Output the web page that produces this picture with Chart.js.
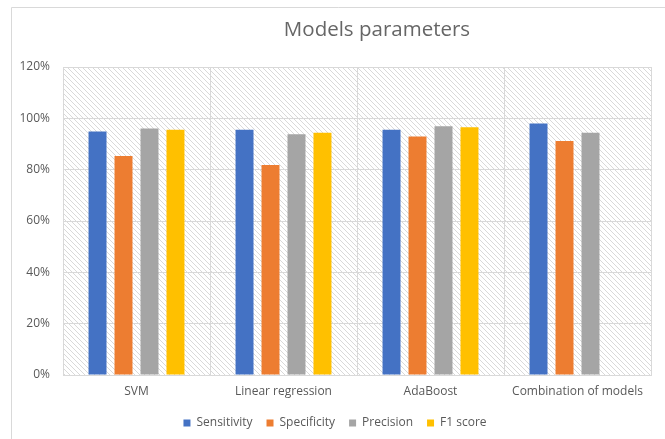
<!DOCTYPE html>
<html>
<head>
<meta charset="utf-8">
<script src="https://cdn.jsdelivr.net/npm/chart.js@4"></script>
<style>
  html, body { margin: 0; padding: 0; background: #fff; }
  #wrap { width: 665px; height: 439px; position: relative; }
</style>
</head>
<body>
<div id="wrap"><canvas id="modelsChart"></canvas></div>
<script>
// chart data
const chartTitle = 'Models parameters';
const categories = ['SVM', 'Linear regression', 'AdaBoost', 'Combination of models'];
const sensitivity = [94.9, 95.6, 95.6, 98.0];
const specificity = [85.3, 81.8, 92.9, 91.2];
const precision = [96.0, 93.8, 96.9, 94.4];
const f1Score = [95.6, 94.4, 96.5, null];
const yMax = 120;
const yStep = 20;

document.addEventListener('DOMContentLoaded', function() {
    // diagonal hatch used behind the plot
    const tile = document.createElement('canvas');
    tile.width = 5;
    tile.height = 5;
    const tctx = tile.getContext('2d');
    tctx.strokeStyle = '#d9d9d9';
    tctx.lineWidth = 1;
    [-5, 0, 5].forEach(o => {
        tctx.beginPath();
        tctx.moveTo(o, 0);
        tctx.lineTo(o + 5, 5);
        tctx.stroke();
    });

    const backdrop = {
        id: 'backdrop',
        beforeDraw(chart) {
            const ctx = chart.ctx;
            const a = chart.chartArea;
            ctx.save();
            ctx.fillStyle = '#fff';
            ctx.fillRect(0, 0, chart.width, chart.height);
            // frame of the chart object
            ctx.strokeStyle = '#d9d9d9';
            ctx.lineWidth = 1;
            ctx.beginPath();
            ctx.moveTo(11.5, chart.height + 2);
            ctx.lineTo(11.5, 7.5);
            ctx.lineTo(chart.width + 2, 7.5);
            ctx.stroke();
            // hatched plot area
            ctx.fillStyle = ctx.createPattern(tile, 'repeat');
            ctx.fillRect(a.left, a.top, a.right - a.left, a.bottom - a.top);
            ctx.restore();
        },
        afterDraw(chart) {
            const ctx = chart.ctx;
            ctx.save();
            ctx.font = '20.5px "Open Sans"';
            ctx.fillStyle = '#666666';
            ctx.textAlign = 'center';
            ctx.textBaseline = 'middle';
            ctx.fillText(chartTitle, 377, 30);
            ctx.restore();
        }
    };

    const ctx = document.getElementById('modelsChart').getContext('2d');
    new Chart(ctx, {
        type: 'bar',
        data: {
            labels: categories,
            datasets: [
                { label: 'Sensitivity', data: sensitivity, backgroundColor: '#4472C4' },
                { label: 'Specificity', data: specificity, backgroundColor: '#ED7D31' },
                { label: 'Precision', data: precision, backgroundColor: '#A5A5A5' },
                { label: 'F1 score', data: f1Score, backgroundColor: '#FFC000' }
            ]
        },
        options: {
            responsive: true,
            maintainAspectRatio: false,
            animation: false,
            layout: {
                padding: { left: 19, right: 14, top: 67, bottom: 0 }
            },
            datasets: {
                bar: {
                    categoryPercentage: 0.707,
                    barPercentage: 0.692
                }
            },
            scales: {
                x: {
                    grid: { color: '#d9d9d9', drawTicks: false, offset: true },
                    border: { color: '#d9d9d9' },
                    ticks: {
                        color: '#595959',
                        font: { family: 'Open Sans', size: 12 },
                        padding: 9,
                        maxRotation: 0
                    },
                    afterFit(scale) { scale.height = 28; }
                },
                y: {
                    min: 0,
                    max: yMax,
                    grid: { color: '#d9d9d9', drawTicks: false },
                    border: { display: false },
                    ticks: {
                        stepSize: yStep,
                        color: '#595959',
                        font: { family: 'Open Sans', size: 12 },
                        padding: 13,
                        callback: v => v + '%'
                    },
                    afterFit(scale) { scale.width = 44; }
                }
            },
            plugins: {
                legend: {
                    position: 'bottom',
                    labels: {
                        boxWidth: 7,
                        boxHeight: 7,
                        padding: 14,
                        color: '#595959',
                        font: { family: 'Open Sans', size: 12 }
                    }
                },
                title: { display: false },
                tooltip: { enabled: false }
            }
        },
        plugins: [backdrop]
    });
});
</script>
</body>
</html>
